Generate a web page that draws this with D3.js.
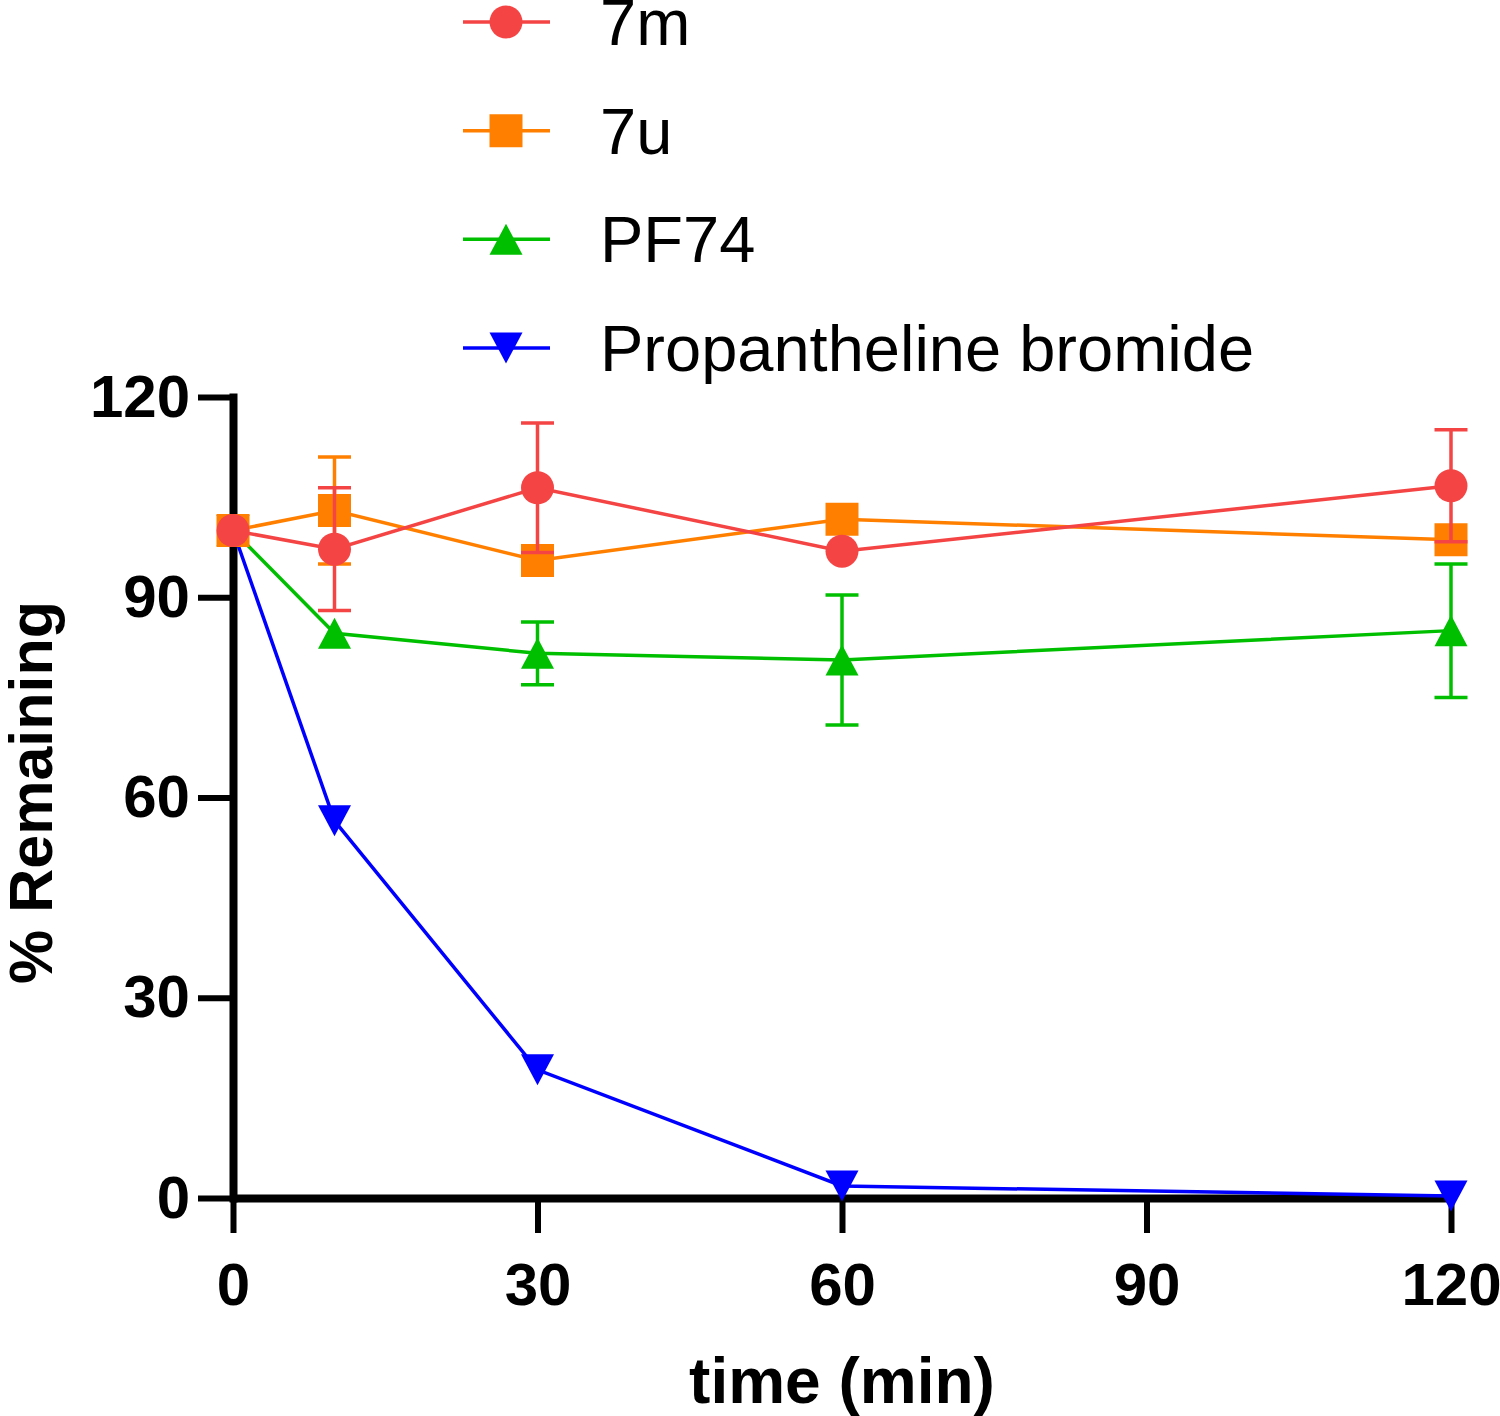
<!DOCTYPE html>
<html>
<head>
<meta charset="utf-8">
<script src="https://cdn.jsdelivr.net/npm/d3@7"></script>
<style>
  html, body { margin: 0; padding: 0; background: #fff; }
  svg { display: block; }
</style>
</head>
<body>
<svg id="chart" width="1500" height="1416"></svg>
<script>
// ---- data ----
const times = [0, 10, 30, 60, 120];
const seriesNames = ["7m", "7u", "PF74", "Propantheline bromide"];
const seriesColors = ["#F54444", "#FF8000", "#00BF00", "#0000FF"];
const seriesSymbols = ["circle", "square", "triangleUp", "triangleDown"];
const values7m   = [100, 97.2, 106.4, 96.9, 106.7];
const errors7m   = [0, 9.2, 9.7, 0, 8.4];
const values7u   = [100, 103.0, 95.5, 101.7, 98.6];
const errors7u   = [0, 8.0, 0, 0, 0];
const valuesPF74 = [100, 84.6, 81.6, 80.6, 85.0];
const errorsPF74 = [0, 0, 4.7, 9.75, 10.0];
const valuesProp = [100, 56.5, 19.2, 1.8, 0.3];
const errorsProp = [0, 0, 0, 0, 0];
const xTicks = [0, 30, 60, 90, 120];
const yTicks = [0, 30, 60, 90, 120];
const xTitle = "time (min)";
const yTitle = "% Remaining";

const allValues = [values7m, values7u, valuesPF74, valuesProp];
const allErrors = [errors7m, errors7u, errorsPF74, errorsProp];
const series = seriesNames.map((name, i) => ({
  name, color: seriesColors[i], symbol: seriesSymbols[i],
  points: times.map((t, j) => ({ t, v: allValues[i][j], e: allErrors[i][j] }))
}));

// ---- layout ----
const svg = d3.select("#chart");
const font = "Arial, 'Liberation Sans', Helvetica, sans-serif";
const x = d3.scaleLinear().domain([0, 120]).range([233, 1451]);
const y = d3.scaleLinear().domain([0, 120]).range([1198, 397]);

const markerSize = 33;
function symbolPath(kind, s) {
  const h = s / 2;
  if (kind === "circle") return d3.symbol(d3.symbolCircle, Math.PI * h * h)();
  if (kind === "square") return `M${-h},${-h}H${h}V${h}H${-h}Z`;
  const th = s * 0.94 / 2;
  if (kind === "triangleUp") return `M0,${-th}L${h},${th}L${-h},${th}Z`;
  return `M0,${th}L${h},${-th}L${-h},${-th}Z`;
}

// ---- axes ----
const axisStyle = g => {
  g.select(".domain").attr("stroke", "#000").attr("stroke-width", 8);
  g.selectAll(".tick line").attr("stroke", "#000").attr("stroke-width", 6);
  g.selectAll(".tick text")
    .attr("fill", "#000")
    .style("font-family", font)
    .style("font-weight", "bold")
    .style("font-size", "60px");
};

svg.append("g")
  .attr("transform", `translate(0,${y(0)})`)
  .call(d3.axisBottom(x).tickValues(xTicks).tickFormat(d3.format("d"))
        .tickSize(35).tickSizeOuter(0).tickPadding(29))
  .call(axisStyle);

svg.append("g")
  .attr("transform", `translate(${x(0)},0)`)
  .call(d3.axisLeft(y).tickValues(yTicks).tickFormat(d3.format("d"))
        .tickSize(35).tickSizeOuter(0).tickPadding(8))
  .call(axisStyle)
  .call(g => g.select(".domain").attr("stroke-linecap", "square"));

// axis titles
svg.append("text")
  .attr("x", (x(0) + x(120)) / 2 + 0)
  .attr("y", 1403)
  .attr("text-anchor", "middle")
  .style("font-family", font).style("font-weight", "bold").style("font-size", "64px")
  .text(xTitle);

svg.append("text")
  .attr("transform", `translate(52,${(y(0) + y(120)) / 2 - 5}) rotate(-90)`)
  .attr("text-anchor", "middle")
  .style("font-family", font).style("font-weight", "bold").style("font-size", "61px")
  .text(yTitle);

// ---- data marks (drawn in reverse order so 7m is on top) ----
const plot = svg.append("g");
const drawOrder = series.slice().reverse();
drawOrder.forEach(s => {
  const g = plot.append("g");
  g.append("path")
    .datum(s.points)
    .attr("fill", "none")
    .attr("stroke", s.color)
    .attr("stroke-width", 3.5)
    .attr("d", d3.line().x(d => x(d.t)).y(d => y(d.v)));
  const eb = g.selectAll(".eb").data(s.points.filter(d => d.e > 0)).enter().append("g");
  eb.append("line")
    .attr("x1", d => x(d.t)).attr("x2", d => x(d.t))
    .attr("y1", d => y(d.v + d.e)).attr("y2", d => y(d.v - d.e))
    .attr("stroke", s.color).attr("stroke-width", 3.5);
  [1, -1].forEach(sign => {
    eb.append("line")
      .attr("x1", d => x(d.t) - markerSize / 2).attr("x2", d => x(d.t) + markerSize / 2)
      .attr("y1", d => y(d.v + sign * d.e)).attr("y2", d => y(d.v + sign * d.e))
      .attr("stroke", s.color).attr("stroke-width", 3.5);
  });
  g.selectAll(".mk").data(s.points).enter().append("path")
    .attr("transform", d => `translate(${x(d.t)},${y(d.v)})`)
    .attr("d", symbolPath(s.symbol, markerSize))
    .attr("fill", s.color);
});

// ---- legend ----
const legendRowY = d3.scalePoint().domain(seriesNames).range([22, 348]);
const leg = svg.append("g");
series.forEach(s => {
  const cy = legendRowY(s.name);
  leg.append("line")
    .attr("x1", 463).attr("x2", 550).attr("y1", cy).attr("y2", cy)
    .attr("stroke", s.color).attr("stroke-width", 3.5);
  leg.append("path")
    .attr("transform", `translate(506,${cy})`)
    .attr("d", symbolPath(s.symbol, markerSize))
    .attr("fill", s.color);
  leg.append("text")
    .attr("x", 600).attr("y", cy + 23)
    .style("font-family", font).style("font-size", "65px")
    .attr("fill", "#000")
    .text(s.name);
});
</script>
</body>
</html>
